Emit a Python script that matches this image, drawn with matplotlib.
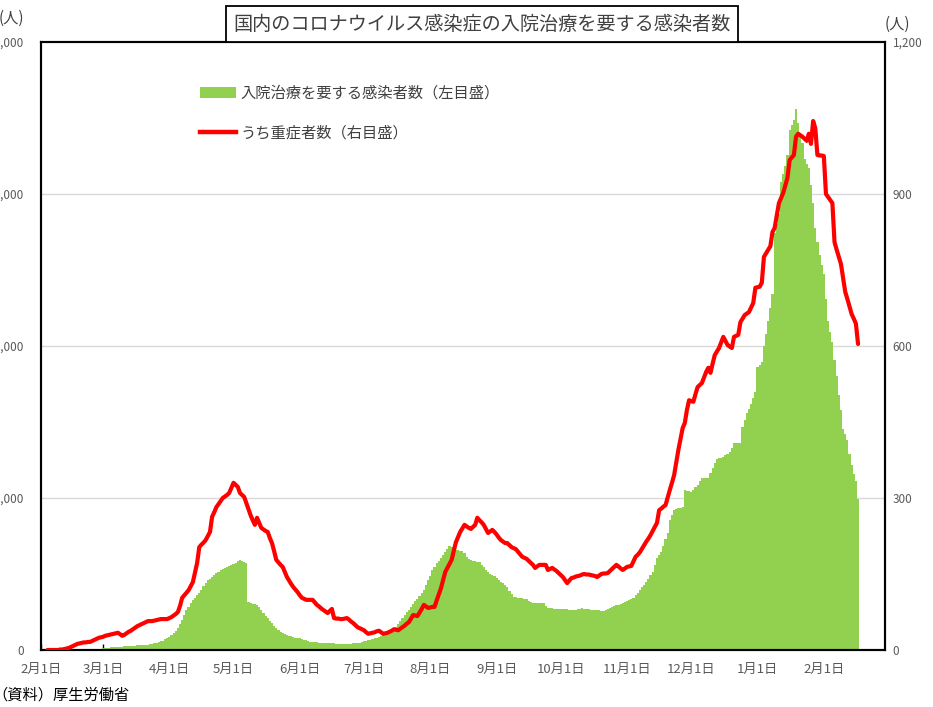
import numpy as np
import pandas as pd
import matplotlib
matplotlib.use("Agg")
import matplotlib.pyplot as plt
import matplotlib.dates as mdates
from matplotlib.patches import Patch
from matplotlib.lines import Line2D

plt.rcParams['font.family'] = ['Noto Sans CJK JP', 'DejaVu Sans']

# 入院治療を要する感染者数 (daily, from 2020-02-01)
hosp_feb20 = [0] * 22 + [20, 30, 40, 50, 60, 70, 80]
hosp_mar20 = [100, 120, 140, 160, 180, 190, 200, 210, 220, 230, 240, 250, 260, 270, 280, 290,
              300, 310, 320, 330, 340, 360, 380, 400, 430, 460, 500, 560, 620, 700, 790]
hosp_apr20 = [880, 980, 1100, 1270, 1450, 1700, 2000, 2300, 2630, 2850, 3080, 3290, 3450, 3600, 3750,
              3950, 4200, 4420, 4600, 4700, 4800, 4920, 5050, 5150, 5260, 5330, 5400, 5460, 5530, 5600]
hosp_may20 = [5660, 5750, 5830, 5920, 5850, 5780, 5720, 3160, 3100, 3050, 3000, 2960, 2800, 2600, 2430,
              2250, 2080, 1900, 1750, 1600, 1450, 1300, 1180, 1100, 1030, 980, 930, 890, 855, 820, 790]
hosp_jun20 = [760, 720, 680, 640, 590, 530, 520, 510, 500, 490, 480, 470, 465, 460, 450,
              440, 430, 420, 410, 405, 400, 400, 405, 410, 420, 430, 440, 450, 460, 520]
hosp_jul20 = [560, 600, 630, 660, 710, 760, 810, 855, 920, 990, 1060, 1130, 1200, 1260, 1320, 1500,
              1700, 1900, 2100, 2300, 2480, 2660, 2850, 3030, 3200, 3380, 3560, 3750, 3950, 4250, 4580]
hosp_aug20 = [4900, 5260, 5480, 5700, 5880, 6050, 6250, 6450, 6650, 6840, 6750, 6650, 6580, 6550, 6530,
              6510, 6350, 6150, 6000, 5920, 5880, 5850, 5820, 5790, 5600, 5450, 5280, 5130, 5030, 4930, 4840]
hosp_sep20 = [4740, 4620, 4500, 4380, 4260, 4140, 3900, 3700, 3490, 3460, 3440, 3420, 3400, 3380, 3360,
              3250, 3160, 3090, 3090, 3090, 3090, 3090, 3090, 2900, 2760, 2750, 2740, 2730, 2720, 2710]
hosp_oct20 = [2700, 2690, 2680, 2670, 2650, 2640, 2630, 2660, 2700, 2730, 2760, 2730, 2700, 2680, 2660,
              2650, 2640, 2630, 2600, 2580, 2570, 2630, 2700, 2770, 2830, 2880, 2940, 2990, 3040, 3090, 3150]
hosp_nov20 = [3220, 3290, 3350, 3420, 3600, 3780, 3950, 4120, 4300, 4470, 4700, 4920, 5130, 5600, 6050,
              6250, 6450, 6870, 7280, 7700, 8550, 8900, 9210, 9260, 9310, 9360, 9410, 10530, 10480, 10440]
hosp_dec20 = [10400, 10550, 10700, 10860, 11100, 11320, 11320, 11320, 11320, 11650, 11970, 12270, 12570,
              12620, 12660, 12700, 12800, 12920, 13030, 13320, 13620, 13620, 13620, 13620, 14670, 15130,
              15590, 15880, 16180, 16580, 16970]
hosp_jan21 = [18620, 18780, 18950, 20000, 20800, 21650, 22500, 23420, 27430, 28050, 28680, 30790, 31300,
              31840, 32570, 34210, 34540, 34870, 35590, 34670, 34000, 33360, 32300, 32000, 31710, 30590,
              29410, 27760, 26840, 26000, 25330]
hosp_feb21 = [24740, 23090, 21650, 20900, 20260, 19080, 18030, 16780, 15790, 14540, 14200, 13820, 12890,
              12170, 11580, 11120, 9930]

# うち重症者数 (daily, from 2020-02-01; first days not reported)
sev_feb20 = [None, None, None, 0, 0, 0, 0, 0, 0, 1, 1, 2, 3, 4, 6, 8, 10, 12, 13, 14, 15, 15, 16, 16,
             18, 20, 22, 24, 25]
sev_mar20 = [26, 28, 29, 30, 31, 32, 33, 34, 31, 28, 30, 33, 36, 38, 41, 44, 47, 49, 51, 53, 55, 57,
             57, 57, 58, 59, 60, 61, 61, 61, 61]
sev_apr20 = [63, 65, 68, 71, 75, 87, 103, 108, 113, 118, 126, 134, 153, 172, 203, 208, 212, 217, 225,
             233, 263, 272, 282, 288, 294, 300, 303, 306, 310, 320]
sev_may20 = [330, 326, 322, 310, 306, 302, 290, 278, 266, 256, 247, 261, 251, 241, 238, 235, 233, 221,
             211, 195, 178, 173, 168, 164, 154, 144, 137, 130, 124, 119, 114]
sev_jun20 = [108, 103, 101, 99, 99, 99, 99, 94, 89, 86, 82, 79, 76, 73, 77, 81, 63, 62, 62, 61, 61, 62,
             63, 60, 56, 53, 49, 45, 43, 41]
sev_jul20 = [39, 35, 32, 33, 34, 35, 37, 38, 35, 32, 33, 34, 36, 38, 41, 40, 39, 42, 45, 48, 52, 55, 62,
             69, 68, 67, 74, 81, 89, 86, 83]
sev_aug20 = [84, 85, 85, 98, 110, 122, 138, 154, 162, 170, 178, 196, 213, 223, 233, 240, 247, 244, 241,
             239, 243, 247, 261, 256, 252, 247, 239, 231, 234, 237, 233]
sev_sep20 = [228, 222, 217, 214, 211, 211, 207, 203, 201, 199, 194, 189, 184, 182, 180, 176, 172, 168,
             162, 165, 168, 168, 168, 168, 158, 160, 162, 159, 156, 152]
sev_oct20 = [148, 144, 138, 132, 137, 142, 143, 145, 146, 147, 149, 150, 149, 149, 148, 147, 146, 144,
             147, 150, 151, 151, 152, 156, 160, 164, 168, 165, 161, 158, 161]
sev_nov20 = [164, 165, 166, 175, 184, 188, 193, 200, 207, 214, 220, 227, 235, 243, 251, 276, 279, 283,
             286, 301, 316, 330, 345, 370, 395, 417, 438, 448, 474, 493]
sev_dec20 = [491, 490, 505, 519, 523, 527, 538, 549, 557, 547, 565, 582, 589, 596, 607, 618, 610, 602,
             599, 596, 618, 620, 622, 647, 654, 661, 664, 667, 676, 685, 715]
sev_jan21 = [716, 717, 725, 776, 783, 790, 797, 825, 833, 857, 882, 892, 902, 917, 932, 967, 972, 977,
             1013, 1019, 1016, 1013, 1009, 1005, 1019, 999, 1044, 1030, 977, 976, 976]
sev_feb21 = [975, 900, 894, 888, 882, 805, 790, 776, 762, 735, 707, 693, 678, 663, 654, 644, 604]

hosp = (hosp_feb20 + hosp_mar20 + hosp_apr20 + hosp_may20 + hosp_jun20 + hosp_jul20 + hosp_aug20
        + hosp_sep20 + hosp_oct20 + hosp_nov20 + hosp_dec20 + hosp_jan21 + hosp_feb21)
severe = (sev_feb20 + sev_mar20 + sev_apr20 + sev_may20 + sev_jun20 + sev_jul20 + sev_aug20
          + sev_sep20 + sev_oct20 + sev_nov20 + sev_dec20 + sev_jan21 + sev_feb21)
severe = np.array([np.nan if v is None else v for v in severe], dtype=float)

dates = pd.date_range("2020-02-01", periods=len(hosp), freq="D")
month_ticks = pd.date_range("2020-02-01", "2021-02-01", freq="MS")
month_labels = [f"{d.month}月1日" for d in month_ticks]

left_ticks = [0, 10000, 20000, 30000, 40000]
right_ticks = [0, 300, 600, 900, 1200]

GREEN = "#92D050"
RED = "#FF0000"
GRAY = "#595959"

W, H = 933, 707
fig = plt.figure(figsize=(W / 100, H / 100), dpi=100, facecolor="white")
ax = fig.add_axes([41 / W, 57 / H, 844 / W, 608 / H])

# horizontal gridlines sit under the bars, tick marks stay on top
for v in left_ticks[1:-1]:
    ax.axhline(v, color="#D9D9D9", lw=1.0, zorder=0.5)
ax.bar(dates, hosp, width=1.02, color=GREEN, linewidth=0, zorder=2)
ax.set_ylim(0, 40000)
ax.set_yticks(left_ticks)
ax.set_yticklabels([f"{v:,}" for v in left_ticks])

x0 = mdates.date2num(pd.Timestamp("2020-02-01"))
ax.set_xlim(x0, x0 + 394.6)
ax.set_xticks(month_ticks)
ax.set_xticklabels(month_labels)
ax.tick_params(axis="x", direction="in", length=4, width=1, pad=9, labelsize=9.5, labelcolor=GRAY)
ax.tick_params(axis="y", length=0, pad=12, labelsize=8.5, labelcolor=GRAY)

ax2 = ax.twinx()
ax2.plot(dates, severe, color=RED, lw=3.0, solid_joinstyle="round", solid_capstyle="round", zorder=3)
ax2.set_ylim(0, 1200)
ax2.set_yticks(right_ticks)
ax2.set_yticklabels([f"{v:,}" for v in right_ticks])
ax2.tick_params(axis="y", length=0, pad=5.5, labelsize=8.5, labelcolor=GRAY)

for a in (ax, ax2):
    for s in a.spines.values():
        s.set_color("black")
        s.set_linewidth(1.5)

handles = [Patch(facecolor=GREEN, edgecolor="none"), Line2D([], [], color=RED, lw=3.2)]
labels = ["入院治療を要する感染者数（左目盛）", "うち重症者数（右目盛）"]
ax2.legend(handles, labels, loc="upper left", bbox_to_anchor=(192 / W, 1 - 77 / H),
           bbox_transform=fig.transFigure, frameon=False, fontsize=11, handlelength=2.4,
           handletextpad=0.3, labelspacing=1.5, borderpad=0, labelcolor="#404040")

fig.text(482 / W, 1 - 24 / H, "国内のコロナウイルス感染症の入院治療を要する感染者数",
         ha="center", va="center", fontsize=13.8, color="#404040", zorder=10,
         bbox=dict(boxstyle="square,pad=0.38", facecolor="white", edgecolor="black", linewidth=1.3))

fig.text(-1 / W, 1 - 18 / H, "(人)", ha="left", va="center", fontsize=11, color="#404040")
fig.text(885 / W, 1 - 24 / H, "(人)", ha="left", va="center", fontsize=11, color="#404040")
fig.text(-8 / W, 1 - 695 / H, "（資料）厚生労働省", ha="left", va="center", fontsize=11, color="black")

fig.savefig("out.png", dpi=100)
